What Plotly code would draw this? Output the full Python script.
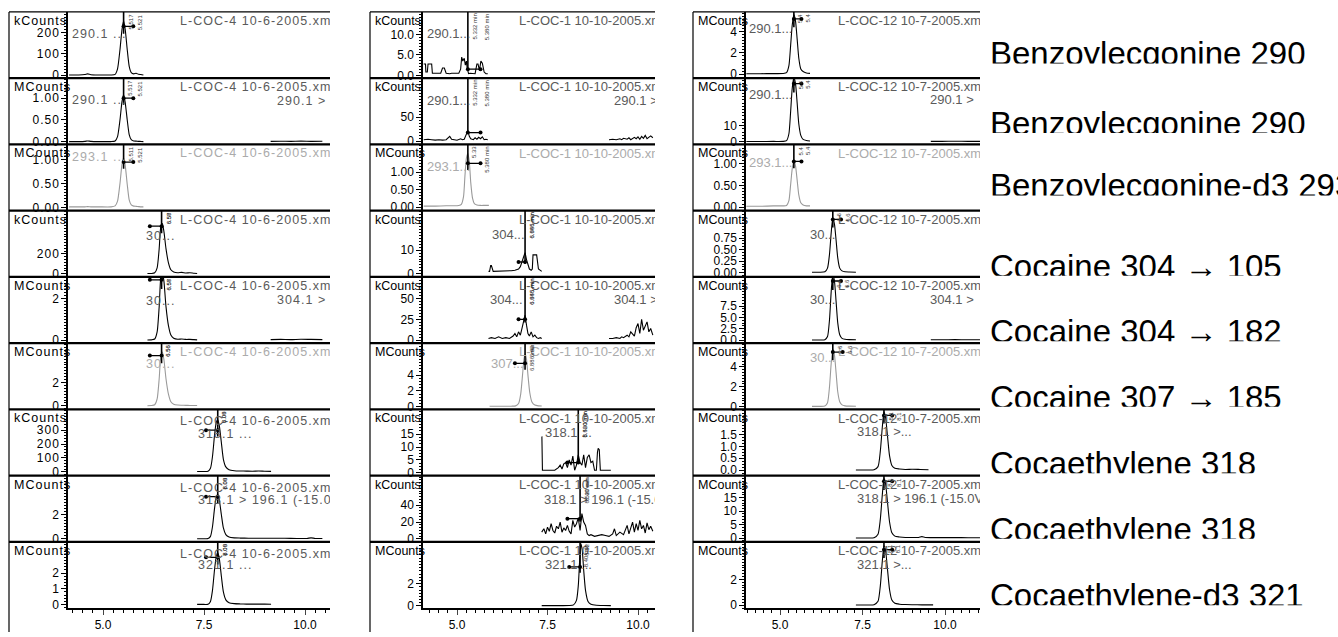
import plotly.graph_objects as go

W, H = 1338, 637

# ---------------- DATA ----------------
# Column 1 : L-COC-4 10-6-2005
c1_bz_t = [4.16, 4.40, 4.55, 4.62, 4.70, 4.90, 5.20, 5.30, 5.36, 5.42, 5.47, 5.51, 5.55, 5.60, 5.65, 5.70, 5.76, 5.82, 5.88, 5.94, 6.00]
c1r1_y = [1, 1, 3, 6, 2, 1, 1, 4, 30, 120, 215, 255, 215, 120, 40, 12, 6, 9, 4, 3, 1]
c1r2_y = [0.005, 0.005, 0.01, 0.02, 0.01, 0.005, 0.005, 0.02, 0.12, 0.5, 0.92, 1.08, 0.9, 0.5, 0.16, 0.05, 0.02, 0.015, 0.01, 0.008, 0.005]
c1r3_y = [0.01, 0.01, 0.01, 0.015, 0.01, 0.01, 0.01, 0.03, 0.13, 0.5, 0.9, 1.04, 0.88, 0.48, 0.15, 0.05, 0.025, 0.02, 0.015, 0.01, 0.01]
c1_tail_t = [9.15, 9.40, 9.65, 9.90, 10.15, 10.43]
c1r2_tail = [0.01, 0.012, 0.01, 0.015, 0.01, 0.012]
c1r5_tail = [0.03, 0.04, 0.03, 0.05, 0.04, 0.03]

c1_coc_t = [6.10, 6.20, 6.28, 6.34, 6.39, 6.43, 6.47, 6.51, 6.56, 6.62, 6.68, 6.75, 6.85, 6.95, 7.05, 7.15, 7.25, 7.33]
c1r4_y = [2, 3, 10, 60, 250, 470, 505, 420, 250, 110, 40, 18, 10, 14, 8, 10, 5, 3]
c1r5_y = [0.01, 0.02, 0.06, 0.4, 1.6, 3.0, 3.3, 2.8, 1.6, 0.7, 0.25, 0.1, 0.05, 0.06, 0.04, 0.04, 0.03, 0.02]
c1r6_y = [0.02, 0.03, 0.1, 0.6, 2.3, 4.2, 4.6, 3.9, 2.3, 1.0, 0.35, 0.15, 0.08, 0.06, 0.05, 0.04, 0.04, 0.03]

c1_ce_t = [7.33, 7.50, 7.60, 7.66, 7.71, 7.76, 7.80, 7.84, 7.88, 7.93, 7.98, 8.04, 8.12, 8.25, 8.40, 8.55, 8.70, 8.85, 9.00, 9.16]
c1r7_y = [2, 2, 4, 25, 110, 260, 350, 376, 330, 210, 90, 35, 15, 8, 6, 5, 4, 6, 4, 3]
c1r9_y = [0.01, 0.01, 0.02, 0.2, 0.9, 2.2, 3.0, 3.3, 2.9, 1.8, 0.8, 0.3, 0.12, 0.06, 0.04, 0.03, 0.03, 0.03, 0.03, 0.02]
c1_ce8_t = [7.33, 7.50, 7.60, 7.66, 7.71, 7.76, 7.80, 7.84, 7.88, 7.93, 7.98, 8.04, 8.12, 8.25, 8.40, 8.60, 8.90, 9.20, 9.50, 9.80, 10.05, 10.15, 10.25, 10.43]
c1r8_y = [0.01, 0.01, 0.02, 0.2, 1.0, 2.5, 3.4, 3.7, 3.2, 2.0, 0.9, 0.35, 0.15, 0.08, 0.06, 0.05, 0.05, 0.04, 0.04, 0.03, 0.03, 0.08, 0.03, 0.03]

# Column 2 : L-COC-1 10-10-2005
c2r1_t = [4.08, 4.13, 4.14, 4.18, 4.20, 4.30, 4.32, 4.35, 4.50, 4.55, 4.60, 4.65, 4.70, 4.75, 4.80, 4.85, 4.95, 5.05, 5.10, 5.13, 5.16, 5.20, 5.23, 5.26, 5.28, 5.30, 5.32, 5.36, 5.42, 5.50, 5.55, 5.58, 5.62, 5.66, 5.70, 5.75, 5.80, 5.85]
c2r1_y = [2.8, 2.8, 0.8, 0.8, 2.8, 2.8, 0.5, 0.5, 0.5, 0.5, 1.8, 1.8, 0.5, 0.4, 0.4, 0.5, 0.5, 0.5, 1.5, 4.5, 3.5, 4.2, 2.5, 3.5, 1.8, 0.4, 0.4, 0.5, 0.4, 0.4, 2.8, 2.8, 1.2, 3.5, 3.0, 0.8, 0.4, 0.4]
c2r2_t = [4.08, 4.20, 4.30, 4.40, 4.50, 4.60, 4.70, 4.75, 4.80, 4.85, 4.90, 5.00, 5.10, 5.15, 5.20, 5.25, 5.30, 5.34, 5.38, 5.45, 5.50, 5.55, 5.60, 5.65, 5.70, 5.75, 5.80, 5.85]
c2r2_y = [3, 4, 3, 2, 3, 2, 3, 6, 10, 4, 3, 2, 5, 3, 4, 12, 22, 10, 5, 3, 7, 4, 8, 5, 9, 3, 4, 3]
c2_tail_t = [9.20, 9.30, 9.40, 9.50, 9.55, 9.60, 9.70, 9.75, 9.80, 9.90, 9.95, 10.00, 10.05, 10.10, 10.15, 10.20, 10.25, 10.30, 10.35, 10.41]
c2r2_tail = [3, 4, 3, 5, 3, 6, 4, 7, 3, 8, 5, 9, 4, 10, 6, 12, 5, 9, 11, 7]
c2r5_tail = [2, 2, 3, 2, 4, 3, 6, 4, 10, 5, 15, 20, 8, 25, 12, 18, 22, 10, 14, 6]
c2_bz_t = [4.08, 4.40, 4.70, 4.90, 5.05, 5.12, 5.18, 5.22, 5.26, 5.30, 5.34, 5.38, 5.43, 5.48, 5.55, 5.65, 5.75, 5.88]
c2r3_y = [0.03, 0.03, 0.04, 0.04, 0.05, 0.08, 0.3, 0.9, 1.4, 1.53, 1.3, 0.7, 0.25, 0.1, 0.06, 0.05, 0.05, 0.05]
c2r4_t = [5.87, 5.90, 5.93, 5.95, 6.00, 6.05, 6.10, 6.15, 6.20, 6.30, 6.40, 6.50, 6.60, 6.70, 6.75, 6.80, 6.85, 6.88, 6.92, 6.97, 7.00, 7.05, 7.08, 7.10, 7.15, 7.20, 7.25, 7.30, 7.34]
c2r4_y = [1, 1, 3.5, 3.5, 1, 1, 1, 1.2, 1, 1, 1, 1.3, 1.5, 2, 3, 5, 7, 9, 6, 3, 2, 1.5, 2, 8, 8, 8, 2, 1.5, 1]
c2r5_t = [5.87, 5.95, 6.05, 6.15, 6.25, 6.35, 6.45, 6.55, 6.60, 6.65, 6.70, 6.75, 6.80, 6.85, 6.88, 6.92, 6.96, 7.00, 7.05, 7.10, 7.15, 7.20, 7.25, 7.30, 7.34]
c2r5_y = [2, 3, 2, 4, 2, 3, 2, 5, 8, 4, 10, 6, 15, 25, 30, 18, 8, 5, 10, 4, 6, 3, 2, 3, 2]
c2_coc_t = [5.90, 6.10, 6.30, 6.50, 6.62, 6.70, 6.76, 6.81, 6.85, 6.88, 6.92, 6.96, 7.01, 7.07, 7.15, 7.25, 7.34]
c2r6_y = [0.05, 0.05, 0.05, 0.06, 0.1, 0.4, 1.6, 4.0, 6.0, 6.7, 6.0, 4.0, 1.8, 0.6, 0.2, 0.1, 0.08]
c2r7_t = [7.34, 7.345, 7.36, 7.40, 7.50, 7.60, 7.70, 7.80, 7.85, 7.90, 7.95, 8.00, 8.05, 8.10, 8.15, 8.20, 8.25, 8.30, 8.35, 8.40, 8.45, 8.50, 8.55, 8.60, 8.65, 8.70, 8.75, 8.80, 8.85, 8.88, 8.90, 8.93, 8.96, 9.00, 9.10, 9.25]
c2r7_y = [14, 14, 1, 1, 1, 1, 1, 2, 3, 1.5, 3.5, 4, 2, 5, 3, 6.5, 1, 3, 7, 4, 3, 7, 2, 6, 7, 4, 4.5, 1, 1, 8, 9.5, 9, 1, 1, 1, 1]
c2r8_t = [7.34, 7.40, 7.45, 7.50, 7.55, 7.60, 7.65, 7.70, 7.75, 7.80, 7.85, 7.90, 7.95, 8.00, 8.05, 8.10, 8.15, 8.20, 8.25, 8.30, 8.35, 8.40, 8.45, 8.50, 8.55, 8.60, 8.65, 8.70, 8.80, 8.90, 9.00, 9.10, 9.20, 9.30, 9.35, 9.40, 9.50, 9.60, 9.65, 9.70, 9.75, 9.80, 9.85, 9.90, 9.95, 10.00, 10.05, 10.10, 10.15, 10.20, 10.25, 10.30, 10.35, 10.41]
c2r8_y = [8, 12, 6, 14, 9, 18, 10, 7, 15, 12, 20, 8, 13, 10, 16, 9, 6, 22, 14, 18, 25, 10, 30, 20, 16, 6, 4, 5, 3, 4, 5, 4, 3, 6, 12, 4, 8, 5, 10, 16, 6, 14, 20, 8, 18, 10, 22, 12, 16, 7, 19, 11, 15, 9]
c2_ce_t = [7.34, 7.60, 7.90, 8.10, 8.22, 8.30, 8.35, 8.39, 8.42, 8.46, 8.50, 8.55, 8.62, 8.70, 8.85, 9.05, 9.25]
c2r9_y = [0.03, 0.03, 0.03, 0.04, 0.1, 0.5, 1.8, 4.2, 5.6, 5.0, 3.2, 1.4, 0.4, 0.15, 0.06, 0.04, 0.03]

# Column 3 : L-COC-12 10-7-2005
c3_bz_t = [3.98, 4.40, 4.80, 5.10, 5.20, 5.27, 5.32, 5.37, 5.42, 5.47, 5.52, 5.57, 5.63, 5.70, 5.80, 5.91]
c3r1_y = [0.05, 0.05, 0.06, 0.07, 0.15, 0.8, 2.6, 4.6, 5.6, 5.0, 3.3, 1.5, 0.5, 0.25, 0.12, 0.08]
c3r2_y = [0.2, 0.2, 0.25, 0.3, 0.8, 5, 18, 33, 40, 36, 24, 11, 4, 1.5, 0.8, 0.5]
c3r3_y = [0.02, 0.02, 0.03, 0.03, 0.04, 0.15, 0.5, 0.88, 1.07, 0.95, 0.62, 0.28, 0.1, 0.05, 0.03, 0.03]
c3_tail_t = [9.57, 9.90, 10.30, 10.70, 11.06]
c3r2_tail = [0.3, 0.3, 0.35, 0.3, 0.3]
c3r5_tail = [0.1, 0.1, 0.12, 0.1, 0.1]
c3_coc_t = [5.97, 6.20, 6.36, 6.44, 6.50, 6.55, 6.60, 6.65, 6.70, 6.75, 6.81, 6.88, 6.97, 7.10, 7.30]
c3r4_y = [0.01, 0.01, 0.02, 0.1, 0.4, 0.85, 1.18, 1.05, 0.7, 0.32, 0.1, 0.04, 0.02, 0.015, 0.01]
c3r5_y = [0.05, 0.05, 0.1, 0.8, 4.5, 10.5, 14.5, 13, 8.5, 3.8, 1.2, 0.4, 0.2, 0.12, 0.1]
c3r6_y = [0.03, 0.03, 0.06, 0.4, 2.0, 4.3, 5.8, 5.2, 3.4, 1.5, 0.5, 0.18, 0.08, 0.05, 0.04]
c3_ce_t = [7.30, 7.60, 7.85, 7.97, 8.04, 8.10, 8.15, 8.20, 8.26, 8.32, 8.39, 8.48, 8.62, 8.80, 9.00, 9.25, 9.50]
c3r7_y = [0.01, 0.01, 0.02, 0.15, 0.8, 1.8, 2.45, 2.2, 1.4, 0.6, 0.2, 0.08, 0.05, 0.03, 0.04, 0.03, 0.02]
c3_ce8_t = [7.30, 7.60, 7.85, 7.97, 8.04, 8.10, 8.15, 8.20, 8.26, 8.32, 8.39, 8.48, 8.62, 8.80, 9.00, 9.20, 9.30, 9.40, 9.80, 10.30, 10.70, 11.06]
c3r8_y = [0.1, 0.1, 0.2, 1.5, 7, 16, 22, 20, 13, 6, 2, 0.8, 0.5, 0.3, 0.3, 0.3, 0.6, 0.3, 0.25, 0.25, 0.2, 0.2]
c3_ce9_t = [7.30, 7.60, 7.85, 7.97, 8.04, 8.10, 8.15, 8.20, 8.26, 8.32, 8.39, 8.48, 8.62, 8.80, 9.00, 9.30, 9.64]
c3r9_y = [0.02, 0.02, 0.04, 0.3, 1.5, 3.4, 4.6, 4.2, 2.7, 1.2, 0.4, 0.15, 0.08, 0.05, 0.04, 0.03, 0.03]

# text content
headers = ["L-COC-4 10-6-2005.xms", "L-COC-1 10-10-2005.xms", "L-COC-12 10-7-2005.xms"]
compound_labels = ["Benzoylecgonine 290", "Benzoylecgonine 290", "Benzoylecgonine-d3 293",
                   "Cocaine 304 \u2192 105", "Cocaine 304 \u2192 182", "Cocaine 307 \u2192 185",
                   "Cocaethylene 318", "Cocaethylene 318", "Cocaethylene-d3 321"]
units = [["kCounts", "MCounts", "MCounts", "kCounts", "MCounts", "MCounts", "kCounts", "MCounts", "MCounts"],
         ["kCounts", "kCounts", "MCounts", "kCounts", "kCounts", "MCounts", "kCounts", "kCounts", "MCounts"],
         ["MCounts"] * 9]
x_tickvals = [5.0, 7.5, 10.0]
x_ticktext = ["5.0", "7.5", "10.0"]

# ---------------- GEOMETRY / STYLE ----------------
COL_LEFT = [9, 370, 693]
COL_AXIS = [68, 423, 746]
COL_RIGHT = [330, 655, 980]
COL_X5 = [103, 457, 780]
COL_X10 = [305, 638, 945]
HEAD_X = [180, 519, 838]
TOP, BOTTOM, NR = 12, 613, 9
RH = (BOTTOM - TOP) / NR
LABEL_CLIP = [64, 134, 197, 278, 344, 410, 477, 543, 610]
FONT = "Arial, Liberation Sans, sans-serif"
GRAYROWS = (2, 5)
HAIR = "\u200a"

# per panel: yrange, ticks, fmt, series, peak marks (t0, t1, level, lab0, lab1), sub texts (text, x_px, dy_px)
P = {
 (0, 0): ([-14, 298], [0, 100, 200], "d", [(c1_bz_t, c1r1_y)], (5.51, 5.75, 230, "5.517", "5.521"), [("290.1 ...", 72, 23)]),
 (0, 1): ([-0.06, 1.46], [0, 0.5, 1.0], ".2f", [(c1_bz_t, c1r2_y), (c1_tail_t, c1r2_tail)], (5.51, 5.75, 1.0, "5.517", "5.521"), [("290.1 ...", 72, 23), ("290.1 >", 277, 24)]),
 (0, 2): ([-0.07, 1.32], [0, 0.5, 1.0], ".2f", [(c1_bz_t, c1r3_y)], (5.51, 5.75, 0.95, "5.511", "5.521"), [("293.1 ...", 72, 14)]),
 (0, 3): ([-32, 636], [0, 200], "d", [(c1_coc_t, c1r4_y)], (6.45, 6.16, 480, "6.58", "6.57"), [("30...", 146, 26)]),
 (0, 4): ([-0.14, 3.04], [0, 2], "d", [(c1_coc_t, c1r5_y), (c1_tail_t, c1r5_tail)], (6.45, 6.16, 2.9, "6.58", "6.57"), [("30...", 146, 25), ("304.1 >", 277, 24)]),
 (0, 5): ([-0.3, 5.36], [0, 2], "d", [(c1_coc_t, c1r6_y)], (6.45, 6.16, 4.3, "6.56", "6.56"), [("30...", 146, 22)]),
 (0, 6): ([-28, 449], [0, 100, 200, 300], "d", [(c1_ce_t, c1r7_y)], (7.84, 7.55, 300, "8.08", "8.09"), [("318.1 ...", 198, 26)]),
 (0, 7): ([-0.26, 5.24], [0, 2], "d", [(c1_ce8_t, c1r8_y)], (7.84, 7.55, 3.5, "8.08", "8.09"), [("318.1 > 196.1 (-15.0V)", 198, 25)]),
 (0, 8): ([-0.23, 3.98], [0, 1, 2], "d", [(c1_ce_t, c1r9_y)], (7.84, 7.55, 3.0, "8.08", "8.09"), [("321.1 ...", 198, 24)]),
 (1, 0): ([-0.7, 15.6], [0, 5, 10], ".1f", [(c2r1_t, c2r1_y)], (5.30, 5.65, 1.5, "5.332 min", "5.380 min"), [("290.1...", 427, 23)]),
 (1, 1): ([-6.9, 132], [0, 50], "d", [(c2r2_t, c2r2_y), (c2_tail_t, c2r2_tail)], (5.30, 5.65, 18, "5.332 min", "5.380 min"), [("290.1...", 427, 24), ("290.1 > 105.1", 614, 24)]),
 (1, 2): ([-0.1, 1.79], [0, 0.5, 1.0], ".2f", [(c2_bz_t, c2r3_y)], (5.30, 5.65, 1.25, "5.33", "5.380 min"), [("293.1...", 427, 24)]),
 (1, 3): ([-1.35, 26.8], [0, 10], "d", [(c2r4_t, c2r4_y)], (6.88, 6.70, 5, "6.886 min", "6.945 min"), [("304...", 492, 25)]),
 (1, 4): ([-3.6, 76], [0, 25, 50], "d", [(c2r5_t, c2r5_y), (c2_tail_t, c2r5_tail)], (6.88, 6.70, 25, "6.886 min", "6.945 min"), [("304...", 490, 24), ("304.1 > 182.1", 614, 24)]),
 (1, 5): ([-0.35, 8.05], [0, 2, 4], "d", [(c2_coc_t, c2r6_y)], (6.88, 6.60, 5.5, "6.886 min", "6.93"), [("307...", 491, 22)]),
 (1, 6): ([-1.1, 24.6], [0, 5, 10, 15], "d", [(c2r7_t, c2r7_y)], (8.35, 8.05, 4, "8.460 min", "8.520 min"), [("318.1 ...", 545, 25)]),
 (1, 7): ([-3.6, 75], [0, 20, 40], "d", [(c2r8_t, c2r8_y)], (8.40, 8.05, 24, "8.40 min", "8.520 min"), [("318.1 > 196.1 (-15.0V)", 544, 25)]),
 (1, 8): ([-0.2, 5.74], [0, 2], "d", [(c2_ce_t, c2r9_y)], (8.40, 8.10, 3.5, "8.40 min", "8.52"), [("321.1 ...", 545, 24)]),
 (2, 0): ([-0.37, 5.86], [0, 2, 4], "d", [(c3_bz_t, c3r1_y)], (5.42, 5.65, 5.2, "5.4", "5.4"), [("290.1...", 749, 18)]),
 (2, 1): ([-1.6, 39.4], [0, 10], "d", [(c3_bz_t, c3r2_y), (c3_tail_t, c3r2_tail)], (5.42, 5.65, 36, "5.4", "5.4"), [("290.1...", 749, 18), ("290.1 >", 930, 23)]),
 (2, 2): ([-0.08, 1.44], [0, 0.5, 1.0], ".2f", [(c3_bz_t, c3r3_y)], (5.42, 5.65, 1.05, "5.4", "5.4"), [("293.1...", 749, 19)]),
 (2, 3): ([-0.09, 1.34], [0, 0.25, 0.5, 0.75], ".2f", [(c3_coc_t, c3r4_y)], (6.60, 6.85, 1.15, "6.6", "6.6"), [("30...", 810, 25)]),
 (2, 4): ([-0.65, 13.9], [0, 2.5, 5, 7.5], ".1f", [(c3_coc_t, c3r5_y), (c3_tail_t, c3r5_tail)], (6.60, 6.85, 13, "6.6", "6.6"), [("30...", 810, 24), ("304.1 >", 930, 24)]),
 (2, 5): ([-0.28, 6.4], [0, 2, 4], "d", [(c3_coc_t, c3r6_y)], (6.60, 6.90, 5.5, "6.6", "6.6"), [("30...", 810, 16)]),
 (2, 6): ([-0.23, 2.55], [0, 0.5, 1.0, 1.5], ".1f", [(c3_ce_t, c3r7_y)], (8.15, 8.40, 2.3, "8.1", "8.1"), [("318.1 >...", 857, 24)]),
 (2, 7): ([-1.35, 23.1], [0, 5, 10, 15], "d", [(c3_ce8_t, c3r8_y)], (8.15, 8.40, 21, "8.1", "8.1"), [("318.1 > 196.1 (-15.0V)", 857, 24)]),
 (2, 8): ([-0.23, 4.9], [0, 2], "d", [(c3_ce9_t, c3r9_y)], (8.15, 8.40, 4.3, "8.1", "8.1"), [("321.1 >...", 857, 24)]),
}


def t_of(c, px):
    return 5.0 + (px - COL_X5[c]) * 5.0 / (COL_X10[c] - COL_X5[c])


def v_of(yr, top, bot, py):
    return yr[0] + (bot - py) / (bot - top) * (yr[1] - yr[0])


def fmt(v, f):
    return format(v, f) if f != "d" else str(int(round(v)))


def spaced(c, s):
    # the first column of the original uses a letter-spaced font
    return HAIR.join(s) if c == 0 else s


fig = go.Figure()
layout = dict(width=W, height=H, margin=dict(l=0, r=0, t=0, b=0), paper_bgcolor="white",
              plot_bgcolor="rgba(0,0,0,0)", showlegend=False, font=dict(family=FONT, color="black"))
shapes, annos = [], []

k = 0
for c in range(3):
    for r in range(NR):
        k += 1
        xa = "x" if k == 1 else f"x{k}"
        ya = "y" if k == 1 else f"y{k}"
        top = TOP + r * RH
        bot = top + RH
        yr, ticks, f, series, pk, subs = P[(c, r)]
        gray = r in GRAYROWS
        lc = "#9a9a9a" if gray else "black"
        tc = "#ababab" if gray else "#5a5a5a"
        xr = [t_of(c, COL_AXIS[c]), t_of(c, COL_RIGHT[c])]
        last = r == NR - 1
        xax = dict(domain=[COL_AXIS[c] / W, COL_RIGHT[c] / W], range=xr, anchor=ya,
                   showgrid=False, zeroline=False, fixedrange=True,
                   showline=last, linecolor="black", linewidth=1.5,
                   showticklabels=last, ticks="outside" if last else "",
                   tickvals=x_tickvals, ticktext=x_ticktext, ticklen=5, tickwidth=1,
                   tickfont=dict(size=12, family=FONT, color="black"))
        if last:
            xax["minor"] = dict(ticks="outside", ticklen=3, tickwidth=1, tickcolor="black", dtick=0.25, tick0=0)
        ppu = (bot - top) / (yr[1] - yr[0])
        step = ticks[1] - ticks[0]
        nmin = max(2, round(step * ppu / 3.0))
        yax = dict(domain=[1 - bot / H, 1 - top / H], range=yr, anchor=xa,
                   showgrid=False, zeroline=False, fixedrange=True,
                   showline=True, linecolor="black", linewidth=1.5,
                   ticks="outside", ticklen=5, tickwidth=1, tickcolor="black",
                   tickvals=ticks, ticktext=[spaced(c, fmt(v, f)) for v in ticks],
                   tickfont=dict(size=12, family=FONT, color="black"),
                   minor=dict(ticks="outside", ticklen=2.5, tickwidth=1, tickcolor="black",
                              tick0=0, dtick=step / nmin))
        layout["xaxis" if k == 1 else f"xaxis{k}"] = xax
        layout["yaxis" if k == 1 else f"yaxis{k}"] = yax

        for (ts, ys) in series:
            noisy = c == 1 and r not in (2, 5, 8)
            fig.add_trace(go.Scatter(x=ts, y=ys, xaxis=xa, yaxis=ya, mode="lines",
                                     line=dict(color=lc, width=1.1,
                                               shape="linear" if noisy else "spline",
                                               smoothing=0.6),
                                     hoverinfo="skip"))
        # peak marks
        t0, t1, lev, l0, l1 = pk
        fig.add_trace(go.Scatter(x=[t0, t0], y=[lev * 0.85, yr[1]], xaxis=xa, yaxis=ya, mode="lines",
                                 line=dict(color="black", width=1.6), hoverinfo="skip"))
        fig.add_trace(go.Scatter(x=[t0, t1], y=[lev, lev], xaxis=xa, yaxis=ya, mode="lines+markers",
                                 line=dict(color="black", width=1.3), marker=dict(size=4, color="black"),
                                 hoverinfo="skip"))
        for lab, tx in ((l0, t0 + 0.05), (l1, max(t0, t1) + 0.05)):
            annos.append(dict(xref=xa, yref=ya, x=tx, y=yr[1], text=lab, showarrow=False,
                              textangle=-90, xanchor="left", yanchor="top",
                              font=dict(size=6, family=FONT, color="#333")))
        # header and sub texts (clipped by the panel)
        hdy = 13 if (c == 0 and r >= 6) else 10
        tsize = 12.5 if c == 0 else 13
        fig.add_trace(go.Scatter(x=[t_of(c, HEAD_X[c])], y=[v_of(yr, top, bot, top + hdy)],
                                 xaxis=xa, yaxis=ya, mode="text", text=[spaced(c, headers[c])],
                                 textposition="middle right", cliponaxis=True,
                                 textfont=dict(size=tsize, family=FONT, color=tc),
                                 hoverinfo="skip"))
        for (txt, xp, dy) in subs:
            fig.add_trace(go.Scatter(x=[t_of(c, xp)], y=[v_of(yr, top, bot, top + dy)],
                                     xaxis=xa, yaxis=ya, mode="text", text=[spaced(c, txt)],
                                     textposition="middle right", cliponaxis=True,
                                     textfont=dict(size=tsize, family=FONT, color=tc),
                                     hoverinfo="skip"))
        # unit label
        annos.append(dict(xref="paper", yref="paper", x=(COL_LEFT[c] + 3) / W, y=1 - (top + 9) / H,
                          text=spaced(c, units[c][r]), showarrow=False, xanchor="left", yanchor="middle",
                          font=dict(size=12.5, family=FONT, color="black")))
        # row separator
        if not last:
            shapes.append(dict(type="line", xref="paper", yref="paper",
                               x0=COL_LEFT[c] / W, x1=COL_RIGHT[c] / W,
                               y0=1 - bot / H, y1=1 - bot / H, line=dict(color="black", width=2.2)))
    # column frame: top line and left border
    shapes.append(dict(type="line", xref="paper", yref="paper", x0=COL_LEFT[c] / W, x1=COL_RIGHT[c] / W,
                       y0=1 - TOP / H, y1=1 - TOP / H, line=dict(color="black", width=1.2)))
    shapes.append(dict(type="line", xref="paper", yref="paper", x0=COL_LEFT[c] / W, x1=COL_LEFT[c] / W,
                       y0=1 - TOP / H, y1=0, line=dict(color="black", width=1.2)))

# compound labels on the right (clipped at the bottom like in the reference)
for i, lab in enumerate(compound_labels):
    k += 1
    xa, ya = f"x{k}", f"y{k}"
    clip = LABEL_CLIP[i]
    layout[f"xaxis{k}"] = dict(domain=[985 / W, 1], range=[985, W], visible=False, anchor=ya, fixedrange=True)
    layout[f"yaxis{k}"] = dict(domain=[1 - clip / H, 1 - (clip - 45) / H], range=[-clip, -(clip - 45)],
                               visible=False, anchor=xa, fixedrange=True)
    fig.add_trace(go.Scatter(x=[990], y=[-(clip - 6.5)], xaxis=xa, yaxis=ya, mode="text", text=[lab],
                             textposition="middle right", cliponaxis=True,
                             textfont=dict(size=33, family=FONT, color="black"), hoverinfo="skip"))

layout["shapes"] = shapes
layout["annotations"] = annos
fig.update_layout(**layout)
fig.write_html("out.html", config={"displayModeBar": False},
               post_script="document.body.style.margin='0';document.body.style.overflow='hidden';")
